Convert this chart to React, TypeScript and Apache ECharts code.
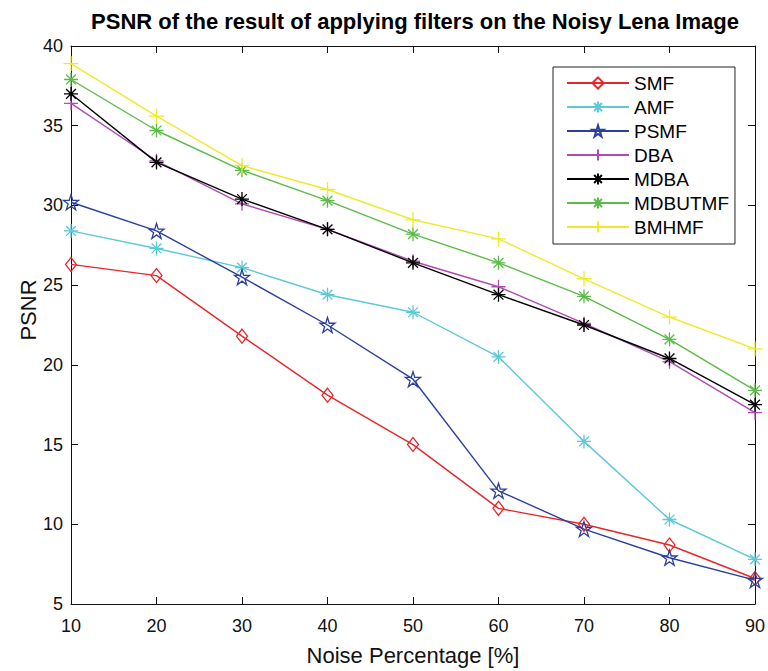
import React, { useEffect, useRef } from "react";
import * as echarts from "echarts";

const noiseLevels = [10, 20, 30, 40, 50, 60, 70, 80, 90];
const smf = [26.3, 25.6, 21.8, 18.1, 15.0, 11.0, 10.0, 8.7, 6.6];
const amf = [28.4, 27.3, 26.1, 24.4, 23.3, 20.5, 15.2, 10.3, 7.8];
const psmf = [30.2, 28.4, 25.5, 22.5, 19.1, 12.1, 9.7, 7.9, 6.5];
const dba = [36.4, 32.8, 30.1, 28.5, 26.5, 24.9, 22.6, 20.2, 17.0];
const mdba = [37.0, 32.7, 30.4, 28.5, 26.4, 24.4, 22.5, 20.4, 17.5];
const mdbutmf = [37.9, 34.7, 32.2, 30.3, 28.2, 26.4, 24.3, 21.6, 18.4];
const bmhmf = [38.9, 35.6, 32.5, 31.0, 29.1, 27.9, 25.4, 23.0, 21.0];

const seriesNames = ["SMF", "AMF", "PSMF", "DBA", "MDBA", "MDBUTMF", "BMHMF"];
const seriesValues = [smf, amf, psmf, dba, mdba, mdbutmf, bmhmf];

const DIAMOND = "path://M0,-1L0.75,0L0,1L-0.75,0Z";
const ASTERISK = "path://M0,-1L0,1M-1,0L1,0M-0.7,-0.7L0.7,0.7M-0.7,0.7L0.7,-0.7";
const PLUS = "path://M0,-1L0,1M-1,0L1,0";
const STAR =
  "path://M0,-1L0.2245,-0.309L0.951,-0.309L0.363,0.118L0.588,0.809L0,0.382L-0.588,0.809L-0.363,0.118L-0.951,-0.309L-0.2245,-0.309Z";

const styles = [
  { color: "#e8262a", symbol: DIAMOND, size: [11, 14] },
  { color: "#5cc8d8", symbol: ASTERISK, size: [14, 14] },
  { color: "#2b3f9e", symbol: STAR, size: [15, 15] },
  { color: "#b04ab4", symbol: PLUS, size: [14, 14] },
  { color: "#000000", symbol: ASTERISK, size: [14, 14] },
  { color: "#5cbb48", symbol: ASTERISK, size: [14, 14] },
  { color: "#eeea2a", symbol: PLUS, size: [15, 15] },
];

export default function App() {
  const ref = useRef<HTMLDivElement>(null);
  useEffect(() => {
    if (!ref.current) return;
    const chart = echarts.init(ref.current, null, { renderer: "svg" });
    const axisCommon = {
      axisLine: { show: true, onZero: false, lineStyle: { color: "#111", width: 1 } },
      axisTick: { show: true, inside: true, length: 7, lineStyle: { color: "#111" } },
      splitLine: { show: false },
    };
    chart.setOption({
      animation: false,
      backgroundColor: "#ffffff",
      title: {
        text: "PSNR of the result of applying filters on the Noisy Lena Image",
        left: 410,
        textAlign: "center",
        top: 5,
        textStyle: { fontFamily: "Arial, Liberation Sans, sans-serif", fontSize: 22, fontWeight: "bold", color: "#000" },
      },
      grid: { left: 71, right: 12, top: 46, bottom: 65 },
      legend: {
        orient: "vertical",
        left: 553,
        top: 67,
        padding: [6, 6, 7, 13],
        backgroundColor: "#fff",
        borderColor: "#222",
        borderWidth: 1,
        itemWidth: 62,
        itemHeight: 14,
        itemGap: 4,
        textStyle: { fontFamily: "Arial, Liberation Sans, sans-serif", fontSize: 19, color: "#000", lineHeight: 20 },
        data: seriesNames,
      },
      xAxis: [
        {
          type: "value",
          min: 10,
          max: 90,
          interval: 10,
          name: "Noise Percentage [%]",
          nameLocation: "middle",
          nameGap: 40,
          nameTextStyle: { fontFamily: "Arial, Liberation Sans, sans-serif", fontSize: 22, color: "#111" },
          axisLabel: { fontFamily: "Arial, Liberation Sans, sans-serif", fontSize: 18, color: "#111", margin: 13 },
          ...axisCommon,
        },
        {
          type: "value",
          position: "top",
          min: 10,
          max: 90,
          interval: 10,
          axisLabel: { show: false },
          ...axisCommon,
        },
      ],
      yAxis: [
        {
          type: "value",
          min: 5,
          max: 40,
          interval: 5,
          axisLabel: { fontFamily: "Arial, Liberation Sans, sans-serif", fontSize: 18, color: "#111", margin: 8 },
          ...axisCommon,
        },
        {
          type: "value",
          position: "right",
          min: 5,
          max: 40,
          interval: 5,
          axisLabel: { show: false },
          ...axisCommon,
        },
      ],
      graphic: [
        {
          type: "text",
          x: 28,
          y: 310,
          rotation: Math.PI / 2,
          style: {
            text: "PSNR",
            fontFamily: "Arial, Liberation Sans, sans-serif",
            fontSize: 22,
            fill: "#111",
            align: "center",
            verticalAlign: "middle",
          },
        },
      ],
      series: seriesNames.map((name, i) => ({
        name,
        type: "line",
        xAxisIndex: 0,
        yAxisIndex: 0,
        data: noiseLevels.map((x, j) => [x, seriesValues[i][j]]),
        symbol: styles[i].symbol,
        symbolSize: styles[i].size,
        showAllSymbol: true,
        lineStyle: { color: styles[i].color, width: 1.4 },
        itemStyle: { color: "rgba(0,0,0,0)", borderColor: styles[i].color, borderWidth: 1.3 },
        emphasis: { disabled: true },
        z: 2 + i,
      })),
    });
    return () => chart.dispose();
  }, []);
  return <div ref={ref} style={{ width: 768, height: 671, position: "absolute", left: 0, top: 0 }} />;
}
